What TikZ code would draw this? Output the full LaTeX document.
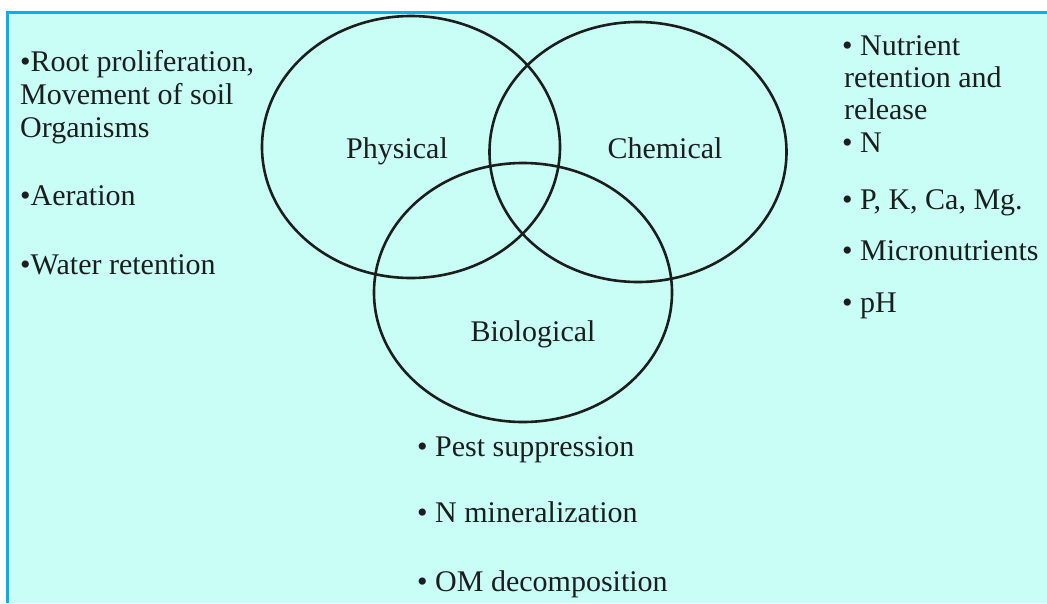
\documentclass[tikz,border=0pt]{standalone}
\usepackage{fontspec}
\setmainfont{Liberation Serif}
\usetikzlibrary{shapes.geometric}
\definecolor{bgcyan}{RGB}{200,254,246}
\definecolor{rimblue}{RGB}{0,176,240}
\definecolor{inkgray}{RGB}{28,30,30}
\begin{document}
\begin{tikzpicture}[x=1pt,y=-1pt,
  venn/.style={ellipse, draw=inkgray, line width=2.6pt, inner sep=0pt},
  lbl/.style={font=\fontsize{30}{33}\selectfont, text=inkgray, inner sep=0pt},
  item/.style={lbl, anchor=base west},
  title/.style={lbl, anchor=base}
]
% page and panel
\fill[white] (0,0) rectangle (1047,603);
\useasboundingbox (0,0) rectangle (1047,603);
\fill[bgcyan] (7,12) rectangle (1047,603);
\draw[rimblue, line width=3pt] (7,603) -- (7,12) -- (1047,12);

% the three overlapping circles
\node[venn, minimum width=298pt, minimum height=262pt] (phys) at (411,147) {};
\node[venn, minimum width=297pt, minimum height=260pt] (chem) at (638,152) {};
\node[venn, minimum width=298pt, minimum height=259pt] (bio)  at (523,292.5) {};

\node[title] (tphys) at (397,158) {Physical};
\node[title] (tchem) at (665,158) {Chemical};
\node[title] (tbio)  at (533,341) {Biological};

% physical properties
\node[item] (p1a) at (20,71)  {•Root proliferation,};
\node[item] (p1b) at (20,104) {Movement of soil};
\node[item] (p1c) at (20,137) {Organisms};
\node[item] (p2)  at (20,205) {•Aeration};
\node[item] (p3)  at (20,274) {•Water retention};

% chemical properties
\node[item] (c1a) at (842,55)  {• Nutrient};
\node[item] (c1b) at (844,87)  {retention and};
\node[item] (c1c) at (844,119) {release};
\node[item] (c2)  at (842,152) {• N};
\node[item] (c3)  at (842,209) {• P, K, Ca, Mg.};
\node[item] (c4)  at (842,260) {• Micronutrients};
\node[item] (c5)  at (842,312) {• pH};

% biological properties
\node[item] (b1) at (417,456) {• Pest suppression};
\node[item] (b2) at (417,522) {• N mineralization};
\node[item] (b3) at (417,591) {• OM decomposition};
\end{tikzpicture}
\end{document}
